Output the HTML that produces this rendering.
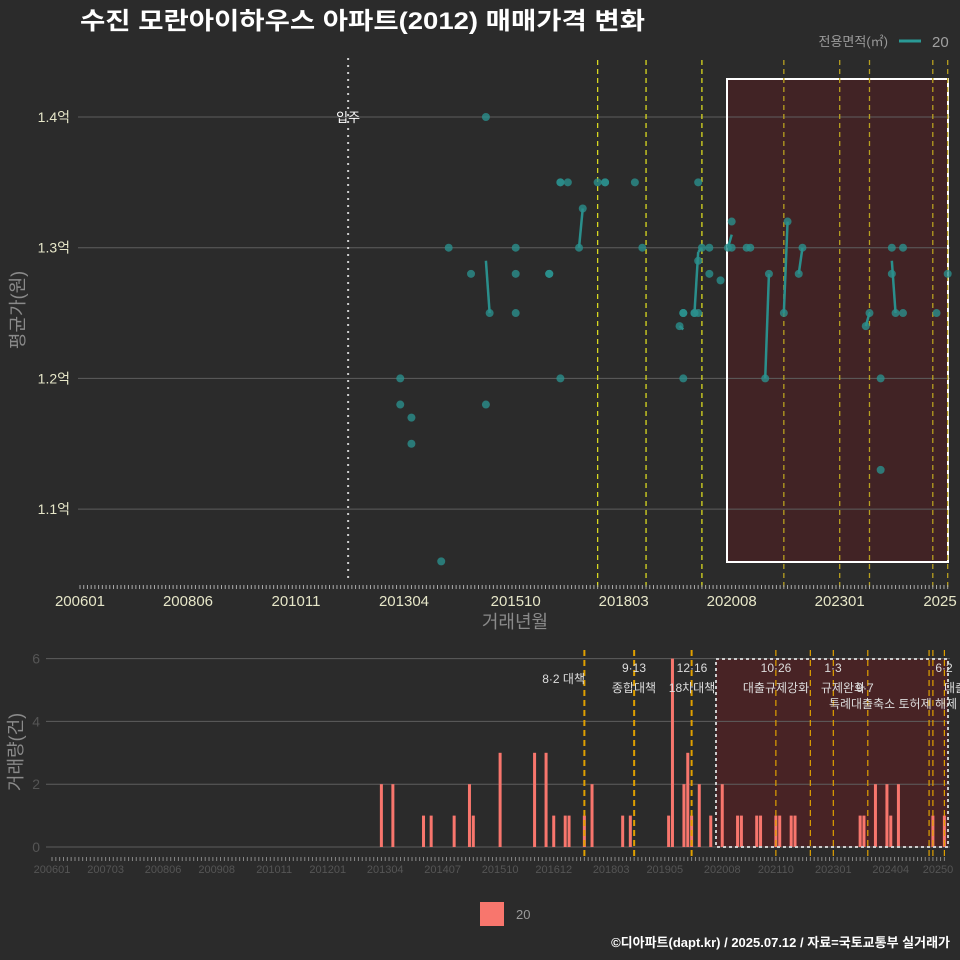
<!DOCTYPE html>
<html><head><meta charset="utf-8"><style>
html,body{margin:0;padding:0;background:#2b2b2b;}
svg{display:block;font-family:"Liberation Sans","Noto Sans CJK KR",sans-serif;}
</style></head><body>
<svg id="c" width="960" height="960" viewBox="0 0 960 960">
<rect width="960" height="960" fill="#2b2b2b"/>
<text x="80" y="29" font-size="24" font-weight="bold" fill="#ffffff" textLength="565" lengthAdjust="spacingAndGlyphs">수진 모란아이하우스 아파트(2012) 매매가격 변화</text>
<g>
<text x="888" y="46" font-size="13" fill="#9a9a9a" text-anchor="end">전용면적(㎡)</text>
<line x1="899" y1="41" x2="921" y2="41" stroke="#2a9a96" stroke-width="3"/>
<text x="932" y="47" font-size="15" fill="#a0a0a0">20</text>
</g>
<g id="gtop"></g>
<g id="gbot"></g>
<g>
<rect x="480" y="902" width="24" height="24" fill="#f8766d"/>
<text x="516" y="919" font-size="13" fill="#9a9a9a">20</text>
</g>
<text x="950" y="947" font-size="13" font-weight="bold" fill="#ffffff" text-anchor="end">©디아파트(dapt.kr) / 2025.07.12 / 자료=국토교통부 실거래가</text>
</svg>
<script>
// month index: 0 = 2006-01
const pointMonths = [86,86,89,89,97,99,105,109,109,110,117,117,117,126,126,126,129,129,129,131,134,135,139,141,141,149,151,161,162,162,162,162,165,165,166,166,166,167,169,169,172,174,175,175,179,180,184,185,189,190,193,194,211,212,215,215,218,218,219,221,221,230,233];
const pointPrices = [1.20,1.18,1.17,1.15,1.06,1.30,1.28,1.40,1.18,1.25,1.30,1.28,1.25,1.28,1.28,1.28,1.35,1.35,1.20,1.35,1.30,1.33,1.35,1.35,1.35,1.35,1.30,1.24,1.25,1.25,1.25,1.20,1.25,1.25,1.25,1.29,1.35,1.30,1.30,1.28,1.275,1.30,1.32,1.30,1.30,1.30,1.20,1.28,1.25,1.32,1.28,1.30,1.24,1.25,1.20,1.13,1.30,1.28,1.25,1.30,1.25,1.25,1.28];
const barMonths = [86,89,97,99,105,109,110,117,126,129,131,134,135,139,141,149,151,161,162,165,166,167,169,172,175,179,180,184,185,189,190,193,194,211,212,215,218,219,221,230,233];
const barCounts = [2,2,1,1,1,2,1,3,3,3,1,1,1,1,2,1,1,1,6,2,3,1,2,1,2,1,1,1,1,1,1,1,1,1,1,2,2,1,2,1,1];
const topYTicks = [1.1,1.2,1.3,1.4];
const topYLabels = ["1.1억","1.2억","1.3억","1.4억"];
const xTickMonths = [0,29,58,87,117,146,175,204,233];
const xTickLabels = ["200601","200806","201011","201304","201510","201803","202008","202301","2025"];
const botXTickMonths = [0,14,29,43,58,72,87,102,117,131,146,160,175,189,204,219,233];
const botXTickLabels = ["200601","200703","200806","200908","201011","201201","201304","201407","201510","201612","201803","201905","202008","202110","202301","202404","20250"];
const botYTicks = [0,2,4,6];
const policyTopMonths = [139,152,167,189,204,212,229,233];
const policyBotMonths = [139,152,167,189,198,204,213,229,230,233];

const NS="http://www.w3.org/2000/svg";
function mk(parent,tag,attrs,text){const el=document.createElementNS(NS,tag);for(const k in attrs)el.setAttribute(k,attrs[k]);if(text!==undefined)el.textContent=text;parent.appendChild(el);return el;}
const gTop=document.getElementById('gtop'), gBot=document.getElementById('gbot');
const tx=m=>80+m*3.724;
const ty=v=>117+(1.4-v)*1307;
const bx=m=>52+m*3.83;
const by=v=>847-v*31.4;

let e;
e=mk(gTop,'rect',{x:727,y:79,width:221,height:483,fill:'#4a2224',opacity:0.75});


topYTicks.forEach((v,i)=>{
  e=mk(gTop,'line',{x1:78,x2:950,y1:ty(v),y2:ty(v),stroke:'#5e5e5e','stroke-width':1});
  
  
  e=mk(gTop,'text',{x:70,y:ty(v)+5,'font-size':14,fill:'#e6e6c8','text-anchor':'end'},topYLabels[i]);
  
  
});
e=mk(gTop,'rect',{x:727,y:79,width:221,height:483,fill:'none',stroke:'#ffffff','stroke-width':2});


e=mk(gTop,'line',{x1:tx(72),x2:tx(72),y1:58,y2:580,stroke:'#cccccc','stroke-width':2,'stroke-dasharray':'2,5'});


e=mk(gTop,'text',{x:tx(72),y:122,'font-size':13,fill:'#ffffff','text-anchor':'middle'},'입주');


policyTopMonths.forEach(m=>{
  e=mk(gTop,'line',{x1:tx(m),x2:tx(m),y1:60,y2:590,stroke:m>=174?'#b8a020':'#d8d820','stroke-width':1.3,'stroke-dasharray':'5,4'});
  
  
});
const byMonth={};
pointMonths.forEach((m,i)=>{(byMonth[m]=byMonth[m]||[]).push(pointPrices[i]);});
const months=Object.keys(byMonth).map(Number).sort((a,b)=>a-b);
const mean=m=>byMonth[m].reduce((a,b)=>a+b,0)/byMonth[m].length;
for(let i=1;i<months.length;i++){
  if(months[i]-months[i-1]===1){
    e=mk(gTop,'line',{x1:tx(months[i-1]),y1:ty(mean(months[i-1])),x2:tx(months[i]),y2:ty(mean(months[i])),stroke:'#2a8f8c','stroke-width':2.5});
    
    
  }
}
pointMonths.forEach((m,i)=>{
  e=mk(gTop,'circle',{cx:tx(m),cy:ty(pointPrices[i]),r:4,fill:'#2a8f8c','fill-opacity':0.8});
  
  
});
for(let m=0;m<=233;m++){
  e=mk(gTop,'line',{x1:tx(m),x2:tx(m),y1:585,y2:589,stroke:'#aaaaaa','stroke-width':1});
  
  
}
xTickMonths.forEach((m,i)=>{
  e=mk(gTop,'text',{x:Math.min(tx(m),940),y:606,'font-size':15,fill:'#e6e6c8','text-anchor':'middle'},xTickLabels[i]);
  
  
});
e=mk(gTop,'text',{x:515,y:628,'font-size':18,fill:'#8a8a8a','text-anchor':'middle'},'거래년월');


e=mk(gTop,'text',{x:0,y:0,'font-size':18,fill:'#8a8a8a','text-anchor':'middle',transform:'translate(24,310) rotate(-90)'},'평균가(원)');



e=mk(gBot,'rect',{x:716,y:659,width:232,height:188,fill:'#4e2224',opacity:0.85});


botYTicks.forEach(v=>{
  e=mk(gBot,'line',{x1:46,x2:950,y1:by(v),y2:by(v),stroke:'#5e5e5e','stroke-width':1});
  
  
  e=mk(gBot,'text',{x:40,y:by(v)+5,'font-size':14,fill:'#555555','text-anchor':'end'},String(v));
  
  
});
barMonths.forEach((m,i)=>{
  e=mk(gBot,'rect',{x:bx(m)-1.5,y:by(barCounts[i]),width:3,height:by(0)-by(barCounts[i]),fill:'#f8766d'});
  
  
});
e=mk(gBot,'rect',{x:716,y:659,width:232,height:188,fill:'none',stroke:'#cccccc','stroke-width':2,'stroke-dasharray':'3,3'});


policyBotMonths.forEach(m=>{
  e=mk(gBot,'line',{x1:bx(m),x2:bx(m),y1:650,y2:858,stroke:'#e0a000','stroke-width':(m===139||m===152||m===167)?2:1.2,'stroke-dasharray':'6,4'});
  
  
});
const ann=[[585,683,'8·2 대책','end'],[634,672,'9·13','middle'],[634,692,'종합대책','middle'],[692,672,'12·16','middle'],[692,692,'18차대책','middle'],[776,672,'10·26','middle'],[776,692,'대출규제강화','middle'],[833,672,'1·3','middle'],[843,692,'규제완화','middle'],[865,692,'9·7','middle'],[893,708,'특례대출축소 토허제 해제','middle'],[944,672,'6·2','middle'],[944,692,'대출규','start']];
ann.forEach(a=>{
  e=mk(gBot,'text',{x:a[0],y:a[1],'font-size':12,fill:'#dddddd','text-anchor':a[3]},a[2]);
  
  
});
for(let m=0;m<=233;m++){
  e=mk(gBot,'line',{x1:bx(m),x2:bx(m),y1:857,y2:861,stroke:'#888888','stroke-width':1});
  
  
}
botXTickMonths.forEach((m,i)=>{
  e=mk(gBot,'text',{x:Math.min(bx(m),938),y:873,'font-size':11,fill:'#555555','text-anchor':'middle'},botXTickLabels[i]);
  
  
});
e=mk(gBot,'text',{x:0,y:0,'font-size':18,fill:'#8a8a8a','text-anchor':'middle',transform:'translate(22,752) rotate(-90)'},'거래량(건)');


</script>
</body></html>
